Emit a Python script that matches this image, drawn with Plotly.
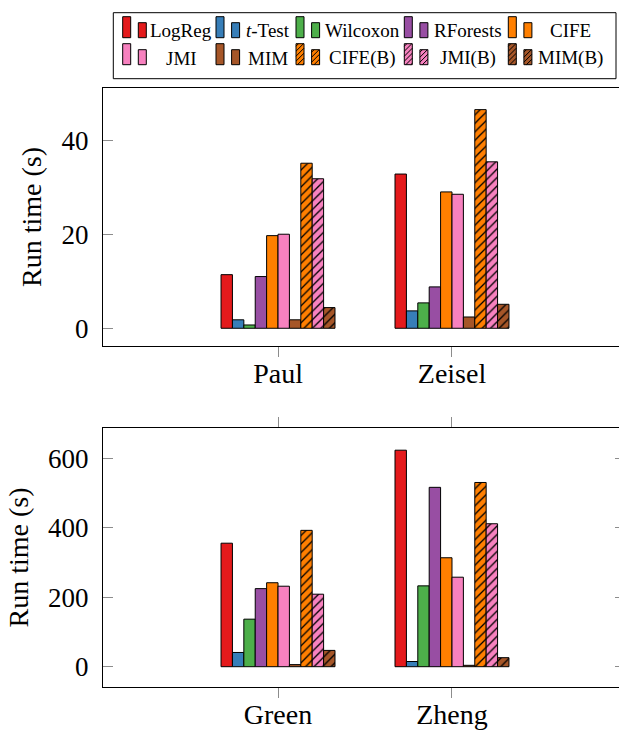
import plotly.graph_objects as go

W, H = 619, 730

methods = ["LogReg", "<i>t</i>-Test", "Wilcoxon", "RForests", "CIFE",
           "JMI", "MIM", "CIFE(B)", "JMI(B)", "MIM(B)"]
colors = ["#e41a1c", "#377eb8", "#4daf4a", "#984ea3", "#ff7f00",
          "#f781bf", "#a65628", "#ff7f00", "#f781bf", "#a65628"]
hatched = [False, False, False, False, False, False, False, True, True, True]

top_datasets = ["Paul", "Zeisel"]
bottom_datasets = ["Green", "Zheng"]

# run times in seconds, one value per method (same order as `methods`)
paul_times = [11.4, 1.8, 0.7, 11.0, 19.7, 20.0, 1.8, 35.1, 31.8, 4.4]
zeisel_times = [32.8, 3.7, 5.4, 8.8, 29.0, 28.5, 2.4, 46.5, 35.4, 5.1]
green_times = [356, 41, 137, 225, 242, 232, 6, 393, 209, 47]
zheng_times = [624, 15, 233, 517, 314, 258, 4, 531, 412, 26]

top_yticks = [0, 20, 40]
bottom_yticks = [0, 200, 400, 600]

FONT = "Liberation Serif"
TICK_GRAY = "#8c8c8c"


def px(x):
    return x / W


def py(y):
    return 1 - y / H


fig = go.Figure()

panels = [
    ("x", "y", top_datasets, paul_times, zeisel_times),
    ("x2", "y2", bottom_datasets, green_times, zheng_times),
]
for xa, ya, names, first, second in panels:
    for i, m in enumerate(methods):
        marker = dict(color=colors[i], line=dict(color="black", width=1))
        if hatched[i]:
            marker["pattern"] = dict(shape="/", fgcolor="black", fgopacity=1,
                                     size=6, solidity=0.22, fillmode="overlay")
        fig.add_trace(go.Bar(
            x=[0, 1], y=[first[i], second[i]], name=m, marker=marker,
            xaxis=xa, yaxis=ya, showlegend=False, offsetgroup=str(i),
        ))

x_dom = [px(103), 1.0]
x_rng = [-1.006, 1.96]
common_x = dict(domain=x_dom, range=x_rng, tickvals=[0, 1], ticks="outside",
                ticklen=10, tickwidth=1, tickcolor=TICK_GRAY, showline=True,
                linecolor="black", linewidth=1, showgrid=False, zeroline=False,
                tickfont=dict(family=FONT, size=28, color="black"),
                ticklabelstandoff=-8, automargin=False)
common_y = dict(ticks="inside", ticklen=10, tickwidth=1, tickcolor=TICK_GRAY,
                showline=True, linecolor="black", linewidth=1, mirror=False,
                showgrid=False, zeroline=False, automargin=False,
                tickfont=dict(family=FONT, size=27, color="black"),
                ticklabelstandoff=8,
                title=dict(text="Run time (s)", standoff=11,
                           font=dict(family=FONT, size=28, color="black")))

fig.update_layout(
    width=W, height=H,
    margin=dict(l=0, r=0, t=0, b=0),
    plot_bgcolor="white", paper_bgcolor="white",
    font=dict(family=FONT, color="black"),
    barmode="group", bargap=0.345, bargroupgap=0,
    xaxis=dict(common_x, anchor="y", ticktext=top_datasets, mirror=True),
    yaxis=dict(common_y, anchor="x", domain=[py(346), py(88)],
               range=[-3.77, 51.1], tickvals=top_yticks),
    xaxis2=dict(common_x, anchor="y2", ticktext=bottom_datasets, mirror="ticks"),
    yaxis2=dict(common_y, anchor="x2", domain=[py(687), py(428)],
                range=[-58.5, 688], tickvals=bottom_yticks),
    yaxis3=dict(overlaying="y2", anchor="x2", side="right", range=[-58.5, 688],
                tickvals=bottom_yticks, ticks="inside", ticklen=4,
                tickcolor=TICK_GRAY, showticklabels=False, showline=False,
                showgrid=False, zeroline=False, automargin=False),
    showlegend=False,
)
# invisible trace so the right-hand tick axis is drawn
fig.add_trace(go.Scatter(x=[], y=[], xaxis="x2", yaxis="y3", showlegend=False))

# ---- legend: two rows of five entries, each with a pair of bar icons ----
shapes = []
annotations = []
shapes.append(dict(type="rect", xref="paper", yref="paper",
                   x0=px(113.3), x1=px(616), y0=py(78.7), y1=py(12.7),
                   line=dict(color="black", width=1), fillcolor="white"))

icon_left = [122.7, 216, 296, 404.3, 508.3]
text_center = [181, 267.5, 362.5, 468, 570]
row_bottom = [37.7, 64.7]
row_text = [31.0, 58.0]


def hatch_path(x0, x1, y0, y1, step=5):
    segs = []
    c = x0 + y0 + step / 2
    while c < x1 + y1:
        xa = max(x0, c - y1)
        xb = min(x1, c - y0)
        if xb > xa:
            segs.append("M%.4f,%.4f L%.4f,%.4f" % (px(xa), py(c - xa),
                                                   px(xb), py(c - xb)))
        c += step
    return " ".join(segs)


for i, m in enumerate(methods):
    row, col = divmod(i, 5)
    yb = row_bottom[row]
    for dx, hgt in ((0, 21), (15.6, 15)):
        x0 = icon_left[col] + dx
        x1 = x0 + 8
        y0 = yb - hgt
        shapes.append(dict(type="rect", xref="paper", yref="paper",
                           x0=px(x0), x1=px(x1), y0=py(yb), y1=py(y0),
                           fillcolor=colors[i],
                           line=dict(color="black", width=1)))
        if hatched[i]:
            shapes.append(dict(type="path", xref="paper", yref="paper",
                               path=hatch_path(x0, x1, y0, yb),
                               line=dict(color="black", width=1)))
    annotations.append(dict(xref="paper", yref="paper", x=px(text_center[col]),
                            y=py(row_text[row]), text=m, showarrow=False,
                            xanchor="center", yanchor="middle",
                            font=dict(family=FONT, size=19, color="black")))

fig.update_layout(shapes=shapes, annotations=annotations)

fig.write_html("out.html")
